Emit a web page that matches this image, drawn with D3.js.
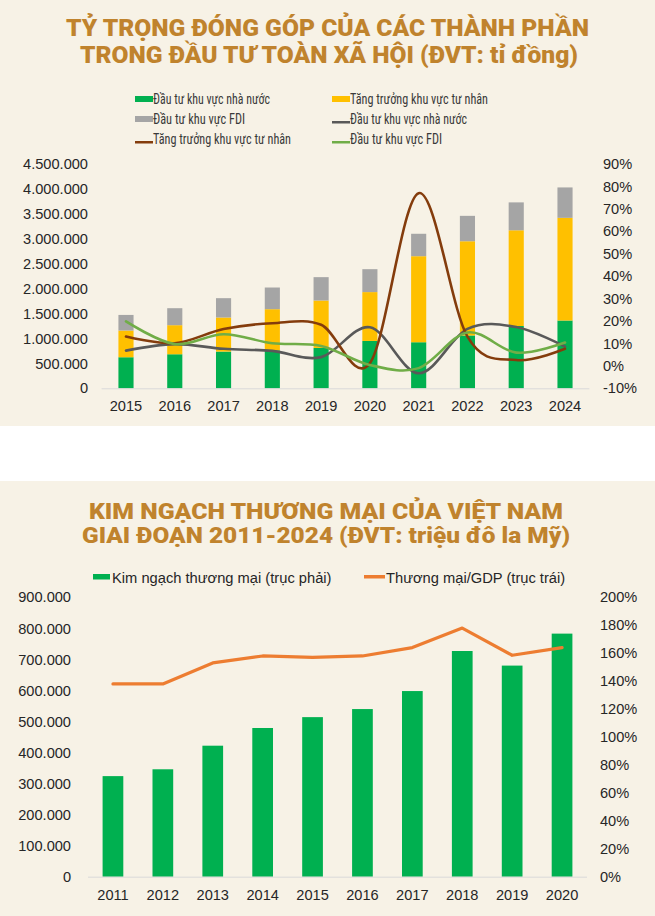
<!DOCTYPE html>
<html>
<head>
<meta charset="utf-8">
<script src="https://cdn.jsdelivr.net/npm/d3@7"></script>
<style>
html,body{margin:0;padding:0;background:#ffffff;}
svg{display:block;}
</style>
</head>
<body>
<svg id="c" width="655" height="916"></svg>
<script>
// ---------- DATA: chart 1 ----------
const years1 = ["2015","2016","2017","2018","2019","2020","2021","2022","2023","2024"];
// stacked bar segments (tỉ đồng)
const stateInv   = [623000, 683000, 737000, 763000, 810000, 950000, 924000, 1060000, 1250000, 1360000];
const privateInv = [536000, 583000, 683000, 824000, 951000, 980000, 1726000, 1890000, 1920000, 2060000];
const fdiInv     = [313000, 341000, 388000, 435000, 469000, 460000, 450000, 510000, 560000, 610000];
// growth lines (%)
const stateGrowth   = [6.8, 9.7, 7.6, 6.7, 3.9, 17.2, -3.3, 16.5, 17.3, 8.6];
const privateGrowth = [13.1, 10.1, 16.4, 19.0, 18.3, 1.2, 77.0, 13.0, 2.6, 7.6];
const fdiGrowth     = [19.8, 9.7, 14.1, 10.1, 8.9, 0.4, -1.0, 14.9, 5.9, 10.4];
const leftTicks1  = [0, 500000, 1000000, 1500000, 2000000, 2500000, 3000000, 3500000, 4000000, 4500000];
const rightTicks1 = [-10, 0, 10, 20, 30, 40, 50, 60, 70, 80, 90];

// ---------- DATA: chart 2 ----------
const years2 = ["2011","2012","2013","2014","2015","2016","2017","2018","2019","2020"];
const tradeValue = [324000, 346000, 422000, 479000, 514000, 540000, 598000, 727000, 680000, 783000];
const tradeGdp   = [138, 138, 153, 158, 157, 158, 164, 178, 158.5, 164];
const leftTicks2  = [0,100000,200000,300000,400000,500000,600000,700000,800000,900000];
const rightTicks2 = [0,20,40,60,80,100,120,140,160,180,200];

// ---------- STYLE ----------
const bg = "#f7f2e6";
const titleColor = "#c0832d";
const cGreen = "#00b050", cYellow = "#ffc000", cGray = "#a5a5a5";
const cDark = "#595959", cBrown = "#843c0c", cLight = "#70ad47", cOrange = "#ed7d31";
const axisFont = "'Liberation Sans', Arial, sans-serif";
const textColor = "#262626";

const loc = d3.formatLocale({decimal: ",", thousands: ".", grouping: [3], currency: ["", ""]});
const fmtNum = loc.format(",d");

const svg = d3.select("#c");

// panels
svg.append("rect").attr("x",0).attr("y",0).attr("width",655).attr("height",426).attr("fill",bg);
svg.append("rect").attr("x",0).attr("y",481).attr("width",655).attr("height",435).attr("fill",bg);

function titleLine(txt, x0, x1, y, size){
  svg.append("text").text(txt)
    .attr("x", x0).attr("y", y)
    .attr("textLength", x1 - x0).attr("lengthAdjust", "spacingAndGlyphs")
    .attr("font-family", "Roboto, 'Liberation Sans', Arial, sans-serif")
    .attr("font-weight", 900).attr("font-size", size)
    .attr("fill", titleColor);
}
titleLine("TỶ TRỌNG ĐÓNG GÓP CỦA CÁC THÀNH PHẦN", 66, 589, 36, 23);
titleLine("TRONG ĐẦU TƯ TOÀN XÃ HỘI (ĐVT: tỉ đồng)", 80, 578, 63, 23);
titleLine("KIM NGẠCH THƯƠNG MẠI CỦA VIỆT NAM", 89, 563, 519, 22);
titleLine("GIAI ĐOẠN 2011-2024 (ĐVT: triệu đô la Mỹ)", 82, 570, 543, 22);

// ---------- legend chart 1 ----------
const leg1 = [
  {label:"Đầu tư khu vực nhà nước", type:"rect", color:cGreen, x:135, base:104, w:117},
  {label:"Tăng trưởng khu vực tư nhân", type:"rect", color:cYellow, x:332, base:104, w:138},
  {label:"Đầu tư khu vực FDI", type:"rect", color:cGray, x:135, base:124, w:92},
  {label:"Đầu tư khu vực nhà nước", type:"line", color:cDark, x:332, base:124, w:117},
  {label:"Tăng trưởng khu vực tư nhân", type:"line", color:cBrown, x:135, base:144, w:138},
  {label:"Đầu tư khu vực FDI", type:"line", color:cLight, x:332, base:144, w:92}
];
leg1.forEach(d => {
  if (d.type === "rect") {
    svg.append("rect").attr("x", d.x).attr("y", d.base - 8).attr("width", 18).attr("height", 6).attr("fill", d.color);
  } else {
    svg.append("rect").attr("x", d.x).attr("y", d.base - 3).attr("width", 18).attr("height", 2.5).attr("fill", d.color);
  }
  svg.append("text").text(d.label)
    .attr("x", d.x + 18).attr("y", d.base)
    .attr("textLength", d.w).attr("lengthAdjust", "spacingAndGlyphs")
    .attr("font-family", "'Liberation Sans Narrow', 'Roboto Condensed', Roboto, sans-serif")
    .attr("font-size", 14).attr("fill", "#3a3a3a");
});

// ---------- chart 1 ----------
const x1 = d3.scaleBand().domain(years1).range([101.6, 589.4]).paddingInner(0.69).paddingOuter(0.345);
const yL1 = d3.scaleLinear().domain([0, 4500000]).range([388.3, 164]);
const yR1 = d3.scaleLinear().domain([-10, 90]).range([388.3, 164]);

const stackData = years1.map((y,i) => ({year:y, state:stateInv[i], priv:privateInv[i], fdi:fdiInv[i]}));
const stack = d3.stack().keys(["state","priv","fdi"])(stackData);
const stackColors = {state:cGreen, priv:cYellow, fdi:cGray};

const g1 = svg.append("g");
g1.selectAll("g.layer").data(stack).join("g")
  .attr("fill", d => stackColors[d.key])
  .selectAll("rect").data(d => d).join("rect")
  .attr("x", d => x1(d.data.year))
  .attr("width", x1.bandwidth())
  .attr("y", d => yL1(d[1]))
  .attr("height", d => yL1(d[0]) - yL1(d[1]));

// baseline
g1.append("line").attr("x1", 101.6).attr("x2", 589.4).attr("y1", yL1(0)+0.5).attr("y2", yL1(0)+0.5)
  .attr("stroke", "#d9d9d9").attr("stroke-width", 1);

const line1 = d3.line().x((d,i) => x1(years1[i]) + x1.bandwidth()/2).y(d => yR1(d)).curve(d3.curveCardinal.tension(0));
[[stateGrowth, cDark], [privateGrowth, cBrown], [fdiGrowth, cLight]].forEach(([arr, col]) => {
  g1.append("path").datum(arr).attr("d", line1).attr("fill","none")
    .attr("stroke", col).attr("stroke-width", 2.6).attr("stroke-linecap","round");
});

// axes chart 1
const axL1 = d3.axisLeft(yL1).tickValues(leftTicks1).tickFormat(d => fmtNum(d)).tickSize(0).tickPadding(0);
const gL1 = svg.append("g").attr("transform", "translate(88,0)").call(axL1);
const axR1 = d3.axisRight(yR1).tickValues(rightTicks1).tickFormat(d => d + "%").tickSize(0).tickPadding(0);
const gR1 = svg.append("g").attr("transform", "translate(603,0)").call(axR1);
const axB1 = d3.axisBottom(x1).tickSize(0).tickPadding(0);
const gB1 = svg.append("g").attr("transform", "translate(0,401)").call(axB1);
[gL1, gR1, gB1].forEach(g => {
  g.select(".domain").remove();
  g.selectAll("text").attr("font-family", axisFont).attr("font-size", 14.6).attr("fill", textColor);
});
gB1.selectAll("text").attr("dy", "0.71em");

// ---------- legend chart 2 ----------
svg.append("rect").attr("x", 93).attr("y", 574).attr("width", 17).attr("height", 5.5).attr("fill", cGreen);
svg.append("text").text("Kim ngạch thương mại (trục phải)").attr("x", 112).attr("y", 583)
  .attr("font-family", axisFont).attr("font-size", 14.7).attr("fill", textColor);
svg.append("rect").attr("x", 364).attr("y", 575).attr("width", 21).attr("height", 3.5).attr("fill", cOrange);
svg.append("text").text("Thương mại/GDP (trục trái)").attr("x", 386).attr("y", 583)
  .attr("font-family", axisFont).attr("font-size", 14.7).attr("fill", textColor);

// ---------- chart 2 ----------
const x2 = d3.scaleBand().domain(years2).range([88, 587]).paddingInner(0.585).paddingOuter(0.2925);
const yL2 = d3.scaleLinear().domain([0, 900000]).range([876.7, 597.3]);
const yR2 = d3.scaleLinear().domain([0, 200]).range([876.7, 597.3]);

const g2 = svg.append("g");
g2.selectAll("rect").data(tradeValue).join("rect")
  .attr("x", (d,i) => x2(years2[i]))
  .attr("width", x2.bandwidth())
  .attr("y", d => yL2(d))
  .attr("height", d => yL2(0) - yL2(d))
  .attr("fill", cGreen);
g2.append("line").attr("x1", 88).attr("x2", 587).attr("y1", yL2(0)+0.5).attr("y2", yL2(0)+0.5)
  .attr("stroke", "#d9d9d9").attr("stroke-width", 1);
const line2 = d3.line().x((d,i) => x2(years2[i]) + x2.bandwidth()/2).y(d => yR2(d));
g2.append("path").datum(tradeGdp).attr("d", line2).attr("fill","none")
  .attr("stroke", cOrange).attr("stroke-width", 3.2).attr("stroke-linejoin","round").attr("stroke-linecap","round");

const axL2 = d3.axisLeft(yL2).tickValues(leftTicks2).tickFormat(d => fmtNum(d)).tickSize(0).tickPadding(0);
const gL2 = svg.append("g").attr("transform", "translate(71,0)").call(axL2);
const axR2 = d3.axisRight(yR2).tickValues(rightTicks2).tickFormat(d => d + "%").tickSize(0).tickPadding(0);
const gR2 = svg.append("g").attr("transform", "translate(600,0)").call(axR2);
const axB2 = d3.axisBottom(x2).tickSize(0).tickPadding(0);
const gB2 = svg.append("g").attr("transform", "translate(0,889.5)").call(axB2);
[gL2, gR2, gB2].forEach(g => {
  g.select(".domain").remove();
  g.selectAll("text").attr("font-family", axisFont).attr("font-size", 14.6).attr("fill", textColor);
});
gB2.selectAll("text").attr("dy", "0.71em");
</script>
</body>
</html>
